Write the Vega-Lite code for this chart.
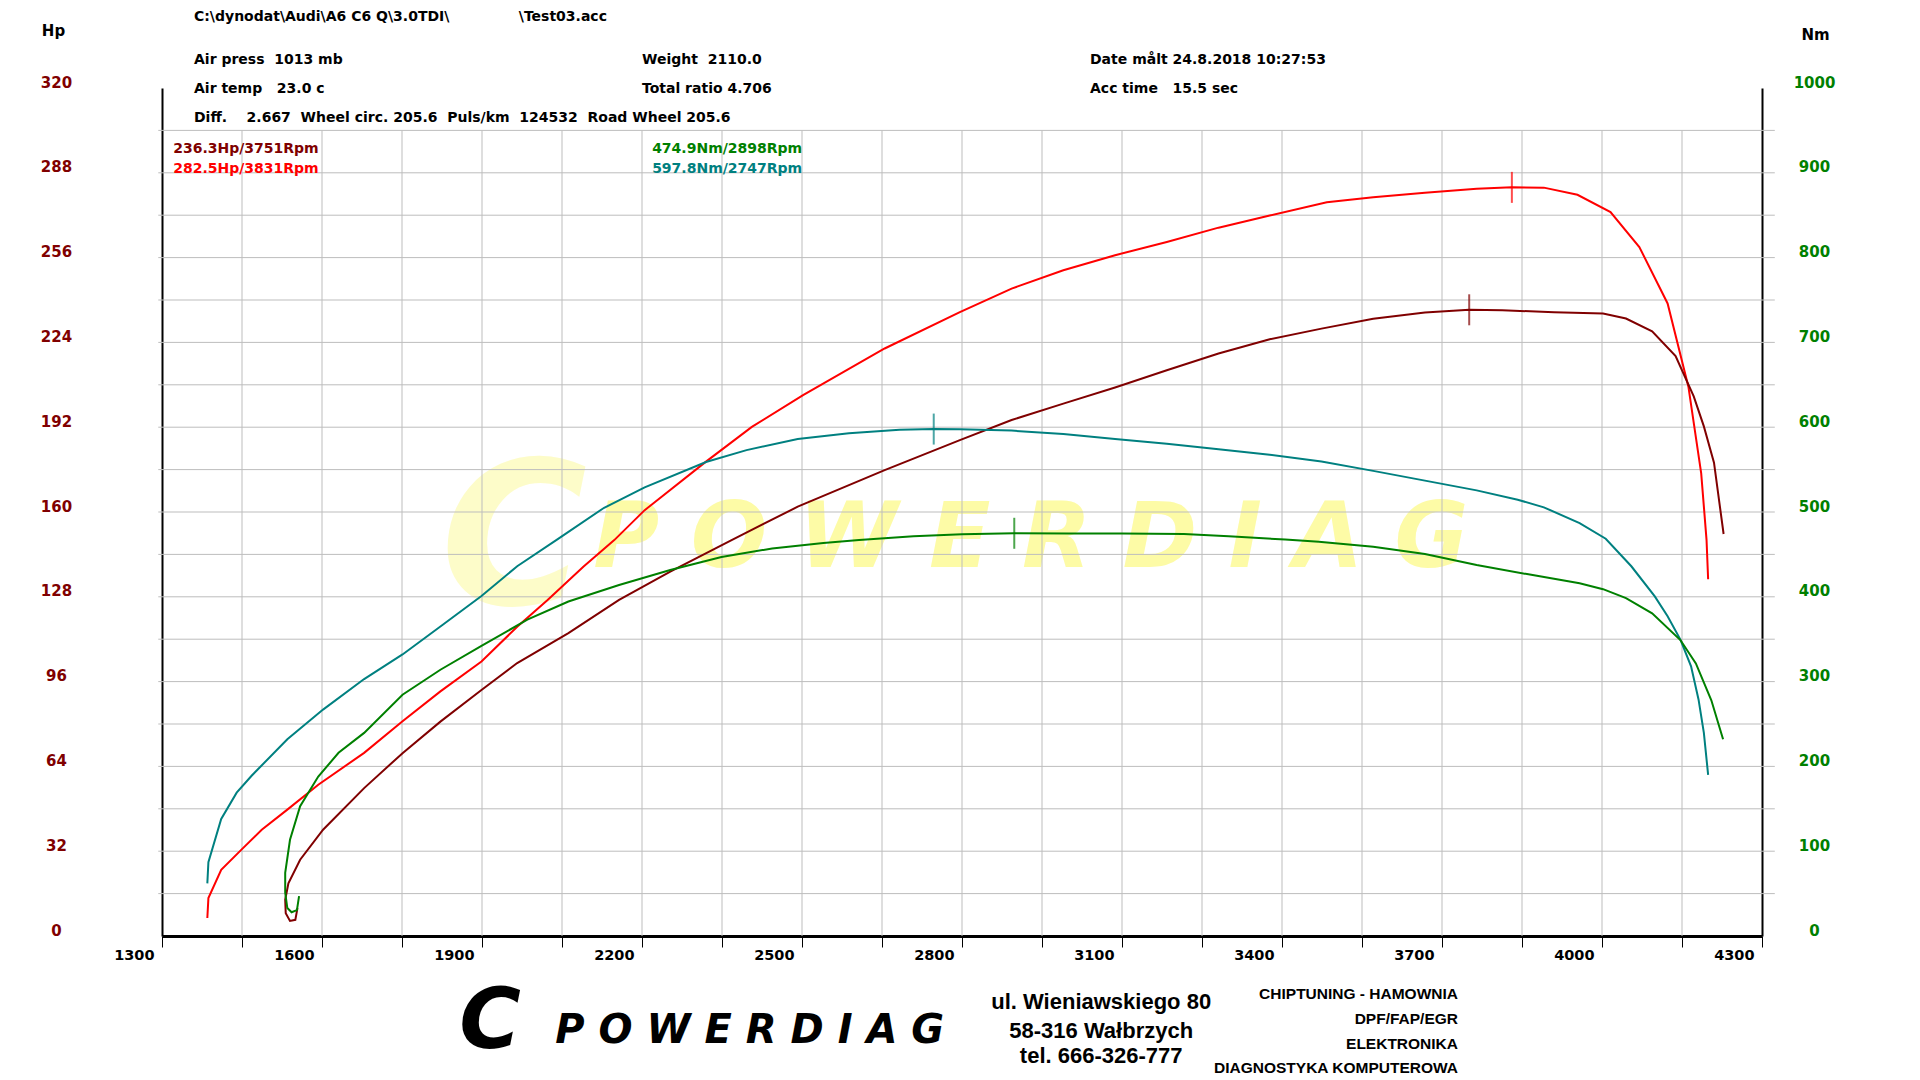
{
  "$schema": "https://vega.github.io/schema/vega-lite/v6.json",
  "description": "Dyno chart: Audi A6 C6 Q 3.0TDI, power (Hp) and torque (Nm) against engine speed.",
  "width": 1600,
  "height": 848,
  "autosize": {"type": "none"},
  "padding": {"left": 162, "top": 88, "right": 158, "bottom": 144},
  "background": "white",
  "config": {
    "view": {"stroke": null},
    "font": "DejaVu Sans",
    "text": {"font": "DejaVu Sans", "fontWeight": "bold", "fontSize": 14, "baseline": "middle", "align": "left", "color": "#000000"}
  },
  "datasets": {
    "hp": [
      {"curve": "282.5Hp/3831Rpm", "n": 1, "rpm": 1385, "hp": 6.8},
      {"curve": "282.5Hp/3831Rpm", "n": 2, "rpm": 1387, "hp": 14.3},
      {"curve": "282.5Hp/3831Rpm", "n": 3, "rpm": 1411, "hp": 25.0},
      {"curve": "282.5Hp/3831Rpm", "n": 4, "rpm": 1449, "hp": 32.6},
      {"curve": "282.5Hp/3831Rpm", "n": 5, "rpm": 1487, "hp": 40.1},
      {"curve": "282.5Hp/3831Rpm", "n": 6, "rpm": 1535, "hp": 47.7},
      {"curve": "282.5Hp/3831Rpm", "n": 7, "rpm": 1593, "hp": 57.1},
      {"curve": "282.5Hp/3831Rpm", "n": 8, "rpm": 1679, "hp": 69.1},
      {"curve": "282.5Hp/3831Rpm", "n": 9, "rpm": 1751, "hp": 81.0},
      {"curve": "282.5Hp/3831Rpm", "n": 10, "rpm": 1822, "hp": 92.3},
      {"curve": "282.5Hp/3831Rpm", "n": 11, "rpm": 1899, "hp": 103.6},
      {"curve": "282.5Hp/3831Rpm", "n": 12, "rpm": 1966, "hp": 116.7},
      {"curve": "282.5Hp/3831Rpm", "n": 13, "rpm": 2023, "hp": 126.8},
      {"curve": "282.5Hp/3831Rpm", "n": 14, "rpm": 2090, "hp": 139.3},
      {"curve": "282.5Hp/3831Rpm", "n": 15, "rpm": 2148, "hp": 149.4},
      {"curve": "282.5Hp/3831Rpm", "n": 16, "rpm": 2205, "hp": 160.7},
      {"curve": "282.5Hp/3831Rpm", "n": 17, "rpm": 2320, "hp": 179.0},
      {"curve": "282.5Hp/3831Rpm", "n": 18, "rpm": 2406, "hp": 192.1},
      {"curve": "282.5Hp/3831Rpm", "n": 19, "rpm": 2502, "hp": 204.1},
      {"curve": "282.5Hp/3831Rpm", "n": 20, "rpm": 2655, "hp": 221.7},
      {"curve": "282.5Hp/3831Rpm", "n": 21, "rpm": 2796, "hp": 235.4},
      {"curve": "282.5Hp/3831Rpm", "n": 22, "rpm": 2893, "hp": 244.3},
      {"curve": "282.5Hp/3831Rpm", "n": 23, "rpm": 2990, "hp": 251.2},
      {"curve": "282.5Hp/3831Rpm", "n": 24, "rpm": 3087, "hp": 256.9},
      {"curve": "282.5Hp/3831Rpm", "n": 25, "rpm": 3184, "hp": 261.9},
      {"curve": "282.5Hp/3831Rpm", "n": 26, "rpm": 3281, "hp": 267.3},
      {"curve": "282.5Hp/3831Rpm", "n": 27, "rpm": 3377, "hp": 271.9},
      {"curve": "282.5Hp/3831Rpm", "n": 28, "rpm": 3484, "hp": 276.9},
      {"curve": "282.5Hp/3831Rpm", "n": 29, "rpm": 3571, "hp": 278.8},
      {"curve": "282.5Hp/3831Rpm", "n": 30, "rpm": 3668, "hp": 280.5},
      {"curve": "282.5Hp/3831Rpm", "n": 31, "rpm": 3765, "hp": 282.0},
      {"curve": "282.5Hp/3831Rpm", "n": 32, "rpm": 3831, "hp": 282.5},
      {"curve": "282.5Hp/3831Rpm", "n": 33, "rpm": 3891, "hp": 282.4},
      {"curve": "282.5Hp/3831Rpm", "n": 34, "rpm": 3954, "hp": 279.7},
      {"curve": "282.5Hp/3831Rpm", "n": 35, "rpm": 4016, "hp": 273.2},
      {"curve": "282.5Hp/3831Rpm", "n": 36, "rpm": 4070, "hp": 260.0},
      {"curve": "282.5Hp/3831Rpm", "n": 37, "rpm": 4123, "hp": 238.7},
      {"curve": "282.5Hp/3831Rpm", "n": 38, "rpm": 4162, "hp": 207.3},
      {"curve": "282.5Hp/3831Rpm", "n": 39, "rpm": 4186, "hp": 174.6},
      {"curve": "282.5Hp/3831Rpm", "n": 40, "rpm": 4196, "hp": 149.5},
      {"curve": "282.5Hp/3831Rpm", "n": 41, "rpm": 4199, "hp": 134.6},
      {"curve": "236.3Hp/3751Rpm", "n": 1, "rpm": 1554, "hp": 10.5},
      {"curve": "236.3Hp/3751Rpm", "n": 2, "rpm": 1550, "hp": 6.1},
      {"curve": "236.3Hp/3751Rpm", "n": 3, "rpm": 1540, "hp": 5.7},
      {"curve": "236.3Hp/3751Rpm", "n": 4, "rpm": 1532, "hp": 8.6},
      {"curve": "236.3Hp/3751Rpm", "n": 5, "rpm": 1531, "hp": 13.7},
      {"curve": "236.3Hp/3751Rpm", "n": 6, "rpm": 1537, "hp": 19.9},
      {"curve": "236.3Hp/3751Rpm", "n": 7, "rpm": 1559, "hp": 28.8},
      {"curve": "236.3Hp/3751Rpm", "n": 8, "rpm": 1602, "hp": 40.1},
      {"curve": "236.3Hp/3751Rpm", "n": 9, "rpm": 1679, "hp": 55.8},
      {"curve": "236.3Hp/3751Rpm", "n": 10, "rpm": 1751, "hp": 69.0},
      {"curve": "236.3Hp/3751Rpm", "n": 11, "rpm": 1822, "hp": 80.9},
      {"curve": "236.3Hp/3751Rpm", "n": 12, "rpm": 1899, "hp": 92.8},
      {"curve": "236.3Hp/3751Rpm", "n": 13, "rpm": 1966, "hp": 103.0},
      {"curve": "236.3Hp/3751Rpm", "n": 14, "rpm": 2062, "hp": 114.3},
      {"curve": "236.3Hp/3751Rpm", "n": 15, "rpm": 2157, "hp": 126.8},
      {"curve": "236.3Hp/3751Rpm", "n": 16, "rpm": 2253, "hp": 137.5},
      {"curve": "236.3Hp/3751Rpm", "n": 17, "rpm": 2368, "hp": 149.4},
      {"curve": "236.3Hp/3751Rpm", "n": 18, "rpm": 2492, "hp": 162.0},
      {"curve": "236.3Hp/3751Rpm", "n": 19, "rpm": 2655, "hp": 175.8},
      {"curve": "236.3Hp/3751Rpm", "n": 20, "rpm": 2796, "hp": 187.1},
      {"curve": "236.3Hp/3751Rpm", "n": 21, "rpm": 2893, "hp": 194.7},
      {"curve": "236.3Hp/3751Rpm", "n": 22, "rpm": 2990, "hp": 200.9},
      {"curve": "236.3Hp/3751Rpm", "n": 23, "rpm": 3087, "hp": 207.0},
      {"curve": "236.3Hp/3751Rpm", "n": 24, "rpm": 3184, "hp": 213.5},
      {"curve": "236.3Hp/3751Rpm", "n": 25, "rpm": 3281, "hp": 219.8},
      {"curve": "236.3Hp/3751Rpm", "n": 26, "rpm": 3377, "hp": 225.2},
      {"curve": "236.3Hp/3751Rpm", "n": 27, "rpm": 3474, "hp": 229.2},
      {"curve": "236.3Hp/3751Rpm", "n": 28, "rpm": 3571, "hp": 232.9},
      {"curve": "236.3Hp/3751Rpm", "n": 29, "rpm": 3668, "hp": 235.3},
      {"curve": "236.3Hp/3751Rpm", "n": 30, "rpm": 3751, "hp": 236.3},
      {"curve": "236.3Hp/3751Rpm", "n": 31, "rpm": 3813, "hp": 236.1},
      {"curve": "236.3Hp/3751Rpm", "n": 32, "rpm": 3910, "hp": 235.4},
      {"curve": "236.3Hp/3751Rpm", "n": 33, "rpm": 4002, "hp": 234.9},
      {"curve": "236.3Hp/3751Rpm", "n": 34, "rpm": 4045, "hp": 233.0},
      {"curve": "236.3Hp/3751Rpm", "n": 35, "rpm": 4094, "hp": 228.2},
      {"curve": "236.3Hp/3751Rpm", "n": 36, "rpm": 4138, "hp": 218.8},
      {"curve": "236.3Hp/3751Rpm", "n": 37, "rpm": 4172, "hp": 203.6},
      {"curve": "236.3Hp/3751Rpm", "n": 38, "rpm": 4191, "hp": 192.3},
      {"curve": "236.3Hp/3751Rpm", "n": 39, "rpm": 4210, "hp": 178.6},
      {"curve": "236.3Hp/3751Rpm", "n": 40, "rpm": 4228, "hp": 151.7}
    ],
    "nm": [
      {"curve": "597.8Nm/2747Rpm", "n": 1, "rpm": 1385, "nm": 62},
      {"curve": "597.8Nm/2747Rpm", "n": 2, "rpm": 1387, "nm": 87},
      {"curve": "597.8Nm/2747Rpm", "n": 3, "rpm": 1411, "nm": 138},
      {"curve": "597.8Nm/2747Rpm", "n": 4, "rpm": 1440, "nm": 169},
      {"curve": "597.8Nm/2747Rpm", "n": 5, "rpm": 1468, "nm": 189},
      {"curve": "597.8Nm/2747Rpm", "n": 6, "rpm": 1535, "nm": 232},
      {"curve": "597.8Nm/2747Rpm", "n": 7, "rpm": 1602, "nm": 267},
      {"curve": "597.8Nm/2747Rpm", "n": 8, "rpm": 1679, "nm": 303},
      {"curve": "597.8Nm/2747Rpm", "n": 9, "rpm": 1751, "nm": 332},
      {"curve": "597.8Nm/2747Rpm", "n": 10, "rpm": 1822, "nm": 365},
      {"curve": "597.8Nm/2747Rpm", "n": 11, "rpm": 1899, "nm": 401},
      {"curve": "597.8Nm/2747Rpm", "n": 12, "rpm": 1966, "nm": 436},
      {"curve": "597.8Nm/2747Rpm", "n": 13, "rpm": 2042, "nm": 468},
      {"curve": "597.8Nm/2747Rpm", "n": 14, "rpm": 2129, "nm": 505},
      {"curve": "597.8Nm/2747Rpm", "n": 15, "rpm": 2205, "nm": 529},
      {"curve": "597.8Nm/2747Rpm", "n": 16, "rpm": 2320, "nm": 559},
      {"curve": "597.8Nm/2747Rpm", "n": 17, "rpm": 2396, "nm": 573},
      {"curve": "597.8Nm/2747Rpm", "n": 18, "rpm": 2492, "nm": 586},
      {"curve": "597.8Nm/2747Rpm", "n": 19, "rpm": 2588, "nm": 593},
      {"curve": "597.8Nm/2747Rpm", "n": 20, "rpm": 2683, "nm": 597},
      {"curve": "597.8Nm/2747Rpm", "n": 21, "rpm": 2747, "nm": 597.8},
      {"curve": "597.8Nm/2747Rpm", "n": 22, "rpm": 2796, "nm": 597.6},
      {"curve": "597.8Nm/2747Rpm", "n": 23, "rpm": 2893, "nm": 596},
      {"curve": "597.8Nm/2747Rpm", "n": 24, "rpm": 2990, "nm": 592},
      {"curve": "597.8Nm/2747Rpm", "n": 25, "rpm": 3087, "nm": 586},
      {"curve": "597.8Nm/2747Rpm", "n": 26, "rpm": 3184, "nm": 580.5},
      {"curve": "597.8Nm/2747Rpm", "n": 27, "rpm": 3281, "nm": 574},
      {"curve": "597.8Nm/2747Rpm", "n": 28, "rpm": 3377, "nm": 567.5},
      {"curve": "597.8Nm/2747Rpm", "n": 29, "rpm": 3474, "nm": 559.5},
      {"curve": "597.8Nm/2747Rpm", "n": 30, "rpm": 3571, "nm": 548.5},
      {"curve": "597.8Nm/2747Rpm", "n": 31, "rpm": 3668, "nm": 537},
      {"curve": "597.8Nm/2747Rpm", "n": 32, "rpm": 3765, "nm": 525.5},
      {"curve": "597.8Nm/2747Rpm", "n": 33, "rpm": 3842, "nm": 514.5},
      {"curve": "597.8Nm/2747Rpm", "n": 34, "rpm": 3891, "nm": 505.5},
      {"curve": "597.8Nm/2747Rpm", "n": 35, "rpm": 3958, "nm": 487},
      {"curve": "597.8Nm/2747Rpm", "n": 36, "rpm": 4007, "nm": 468.5},
      {"curve": "597.8Nm/2747Rpm", "n": 37, "rpm": 4055, "nm": 436},
      {"curve": "597.8Nm/2747Rpm", "n": 38, "rpm": 4099, "nm": 400.5},
      {"curve": "597.8Nm/2747Rpm", "n": 39, "rpm": 4123, "nm": 377},
      {"curve": "597.8Nm/2747Rpm", "n": 40, "rpm": 4147, "nm": 349.5},
      {"curve": "597.8Nm/2747Rpm", "n": 41, "rpm": 4167, "nm": 318},
      {"curve": "597.8Nm/2747Rpm", "n": 42, "rpm": 4181, "nm": 279},
      {"curve": "597.8Nm/2747Rpm", "n": 43, "rpm": 4191, "nm": 239.5},
      {"curve": "597.8Nm/2747Rpm", "n": 44, "rpm": 4199, "nm": 190},
      {"curve": "474.9Nm/2898Rpm", "n": 1, "rpm": 1557, "nm": 47},
      {"curve": "474.9Nm/2898Rpm", "n": 2, "rpm": 1553, "nm": 30.5},
      {"curve": "474.9Nm/2898Rpm", "n": 3, "rpm": 1543, "nm": 28},
      {"curve": "474.9Nm/2898Rpm", "n": 4, "rpm": 1535, "nm": 33},
      {"curve": "474.9Nm/2898Rpm", "n": 5, "rpm": 1531, "nm": 51},
      {"curve": "474.9Nm/2898Rpm", "n": 6, "rpm": 1531, "nm": 74.5},
      {"curve": "474.9Nm/2898Rpm", "n": 7, "rpm": 1540, "nm": 113.5},
      {"curve": "474.9Nm/2898Rpm", "n": 8, "rpm": 1559, "nm": 153},
      {"curve": "474.9Nm/2898Rpm", "n": 9, "rpm": 1593, "nm": 188},
      {"curve": "474.9Nm/2898Rpm", "n": 10, "rpm": 1631, "nm": 216},
      {"curve": "474.9Nm/2898Rpm", "n": 11, "rpm": 1679, "nm": 239.5},
      {"curve": "474.9Nm/2898Rpm", "n": 12, "rpm": 1751, "nm": 284.5},
      {"curve": "474.9Nm/2898Rpm", "n": 13, "rpm": 1822, "nm": 314},
      {"curve": "474.9Nm/2898Rpm", "n": 14, "rpm": 1899, "nm": 342},
      {"curve": "474.9Nm/2898Rpm", "n": 15, "rpm": 1985, "nm": 373},
      {"curve": "474.9Nm/2898Rpm", "n": 16, "rpm": 2062, "nm": 394.5},
      {"curve": "474.9Nm/2898Rpm", "n": 17, "rpm": 2157, "nm": 414},
      {"curve": "474.9Nm/2898Rpm", "n": 18, "rpm": 2253, "nm": 431.5},
      {"curve": "474.9Nm/2898Rpm", "n": 19, "rpm": 2349, "nm": 447},
      {"curve": "474.9Nm/2898Rpm", "n": 20, "rpm": 2444, "nm": 457},
      {"curve": "474.9Nm/2898Rpm", "n": 21, "rpm": 2540, "nm": 463.5},
      {"curve": "474.9Nm/2898Rpm", "n": 22, "rpm": 2607, "nm": 467},
      {"curve": "474.9Nm/2898Rpm", "n": 23, "rpm": 2709, "nm": 471.5},
      {"curve": "474.9Nm/2898Rpm", "n": 24, "rpm": 2800, "nm": 473.8},
      {"curve": "474.9Nm/2898Rpm", "n": 25, "rpm": 2898, "nm": 474.9},
      {"curve": "474.9Nm/2898Rpm", "n": 26, "rpm": 3000, "nm": 474.7},
      {"curve": "474.9Nm/2898Rpm", "n": 27, "rpm": 3100, "nm": 474.6},
      {"curve": "474.9Nm/2898Rpm", "n": 28, "rpm": 3216, "nm": 474.2},
      {"curve": "474.9Nm/2898Rpm", "n": 29, "rpm": 3300, "nm": 471.5},
      {"curve": "474.9Nm/2898Rpm", "n": 30, "rpm": 3406, "nm": 467.5},
      {"curve": "474.9Nm/2898Rpm", "n": 31, "rpm": 3469, "nm": 465},
      {"curve": "474.9Nm/2898Rpm", "n": 32, "rpm": 3571, "nm": 459},
      {"curve": "474.9Nm/2898Rpm", "n": 33, "rpm": 3668, "nm": 450.5},
      {"curve": "474.9Nm/2898Rpm", "n": 34, "rpm": 3765, "nm": 437.5},
      {"curve": "474.9Nm/2898Rpm", "n": 35, "rpm": 3862, "nm": 426.5},
      {"curve": "474.9Nm/2898Rpm", "n": 36, "rpm": 3958, "nm": 416},
      {"curve": "474.9Nm/2898Rpm", "n": 37, "rpm": 4002, "nm": 409},
      {"curve": "474.9Nm/2898Rpm", "n": 38, "rpm": 4045, "nm": 398.5},
      {"curve": "474.9Nm/2898Rpm", "n": 39, "rpm": 4094, "nm": 380.5},
      {"curve": "474.9Nm/2898Rpm", "n": 40, "rpm": 4147, "nm": 349},
      {"curve": "474.9Nm/2898Rpm", "n": 41, "rpm": 4176, "nm": 321.5},
      {"curve": "474.9Nm/2898Rpm", "n": 42, "rpm": 4205, "nm": 278},
      {"curve": "474.9Nm/2898Rpm", "n": 43, "rpm": 4227, "nm": 232}
    ],
    "peaks": [
      {"curve": "282.5Hp/3831Rpm", "unit": "Hp", "rpm": 3831, "value": 282.5},
      {"curve": "236.3Hp/3751Rpm", "unit": "Hp", "rpm": 3751, "value": 236.3},
      {"curve": "597.8Nm/2747Rpm", "unit": "Nm", "rpm": 2747, "value": 597.8},
      {"curve": "474.9Nm/2898Rpm", "unit": "Nm", "rpm": 2898, "value": 474.9}
    ],
    "rpmgrid": [
      {"rpm": 1450}, {"rpm": 1600}, {"rpm": 1750}, {"rpm": 1900}, {"rpm": 2050},
      {"rpm": 2200}, {"rpm": 2350}, {"rpm": 2500}, {"rpm": 2650}, {"rpm": 2800},
      {"rpm": 2950}, {"rpm": 3100}, {"rpm": 3250}, {"rpm": 3400}, {"rpm": 3550},
      {"rpm": 3700}, {"rpm": 3850}, {"rpm": 4000}, {"rpm": 4150}
    ],
    "hpgrid": [
      {"hp": 16}, {"hp": 32}, {"hp": 48}, {"hp": 64}, {"hp": 80}, {"hp": 96}, {"hp": 112},
      {"hp": 128}, {"hp": 144}, {"hp": 160}, {"hp": 176}, {"hp": 192}, {"hp": 208},
      {"hp": 224}, {"hp": 240}, {"hp": 256}, {"hp": 272}, {"hp": 288}, {"hp": 304}
    ]
  },
  "resolve": {"scale": {"y": "independent"}, "axis": {"y": "independent"}},
  "layer": [
    {
      "layer": [
        {
          "data": {"values": [{}]},
          "mark": {"type": "text", "text": "P O W E R D I A G", "fontSize": 90, "fontStyle": "italic", "fontWeight": "bold", "align": "center", "color": "#fdfba6"},
          "encoding": {
            "x": {"datum": 2929, "type": "quantitative", "scale": {"domain": [1300, 4300], "nice": false, "zero": false}},
            "y": {"datum": 149.6, "type": "quantitative", "scale": {"domain": [0, 320], "nice": false, "zero": false}}
          }
        },
        {
          "data": {"values": [{}]},
          "mark": {"type": "text", "text": "C", "fontSize": 200, "fontStyle": "italic", "fontWeight": "bold", "align": "center", "color": "#fdfba6", "opacity": 0.6},
          "encoding": {
            "x": {"datum": 1960, "type": "quantitative"},
            "y": {"datum": 148, "type": "quantitative"}
          }
        },
        {
          "data": {"name": "rpmgrid"},
          "mark": {"type": "rule", "color": "#bdbdbd", "strokeWidth": 1},
          "encoding": {
            "x": {"field": "rpm", "type": "quantitative"},
            "y": {"datum": 0, "type": "quantitative"},
            "y2": {"datum": 304}
          }
        },
        {
          "data": {"name": "hpgrid"},
          "mark": {"type": "rule", "color": "#bdbdbd", "strokeWidth": 1},
          "encoding": {
            "y": {"field": "hp", "type": "quantitative"},
            "x": {"datum": 1293, "type": "quantitative"},
            "x2": {"datum": 4324}
          }
        },
        {
          "data": {"name": "hp"},
          "mark": {"type": "line", "strokeWidth": 2, "clip": false},
          "encoding": {
            "x": {
              "field": "rpm", "type": "quantitative",
              "scale": {"domain": [1300, 4300], "nice": false, "zero": false},
              "axis": {
                "values": [1300, 1450, 1600, 1750, 1900, 2050, 2200, 2350, 2500, 2650, 2800, 2950, 3100, 3250, 3400, 3550, 3700, 3850, 4000, 4150, 4300],
                "labelExpr": "datum.value % 300 == 100 ? datum.label : ''",
                "format": "d", "grid": false, "title": null, "orient": "bottom",
                "domain": true, "domainColor": "#000000", "domainWidth": 3,
                "ticks": true, "tickColor": "#000000", "tickSize": 11, "tickWidth": 1,
                "labelFont": "DejaVu Sans", "labelFontSize": 14.5, "labelFontWeight": "bold", "labelColor": "#000000",
                "labelAlign": "right", "labelBaseline": "top", "labelOffset": -8, "labelPadding": 1,
                "labelFlush": false, "labelOverlap": false, "labelBound": false
              }
            },
            "y": {
              "field": "hp", "type": "quantitative",
              "scale": {"domain": [0, 320], "nice": false, "zero": false},
              "axis": {
                "values": [0, 32, 64, 96, 128, 160, 192, 224, 256, 288, 320],
                "format": "d", "grid": false, "ticks": false, "tickSize": 0, "orient": "left",
                "domain": true, "domainColor": "#000000", "domainWidth": 2,
                "labelFont": "DejaVu Sans", "labelFontSize": 15, "labelFontWeight": "bold", "labelColor": "#800000",
                "labelAlign": "center", "labelBaseline": "middle", "labelPadding": 106, "labelOffset": -6,
                "labelFlush": false, "labelOverlap": false, "labelBound": false,
                "title": "Hp", "titleAngle": 0, "titleX": -109, "titleY": -58,
                "titleFont": "DejaVu Sans", "titleFontSize": 15, "titleFontWeight": "bold", "titleColor": "#000000",
                "titleAlign": "center", "titleBaseline": "middle"
              }
            },
            "order": {"field": "n", "type": "quantitative"},
            "color": {
              "field": "curve", "type": "nominal", "legend": null,
              "scale": {"domain": ["282.5Hp/3831Rpm", "236.3Hp/3751Rpm", "597.8Nm/2747Rpm", "474.9Nm/2898Rpm"], "range": ["#ff0000", "#800000", "#008080", "#008000"]}
            }
          }
        },
        {
          "data": {"name": "peaks"},
          "transform": [{"filter": "datum.unit == 'Hp'"}],
          "mark": {"type": "tick", "orient": "vertical", "size": 31, "thickness": 2},
          "encoding": {
            "x": {"field": "rpm", "type": "quantitative"},
            "y": {"field": "value", "type": "quantitative"},
            "color": {"field": "curve", "type": "nominal", "legend": null}
          }
        },
        {
          "data": {"values": [{}]},
          "layer": [
            {"mark": {"type": "text", "text": "C:\\dynodat\\Audi\\A6 C6 Q\\3.0TDI\\"}, "encoding": {"x": {"datum": 1360, "type": "quantitative"}, "y": {"datum": 346.9, "type": "quantitative"}}},
            {"mark": {"type": "text", "text": "Air press\u00a0 1013 mb"}, "encoding": {"x": {"datum": 1360, "type": "quantitative"}, "y": {"datum": 330.7, "type": "quantitative"}}},
            {"mark": {"type": "text", "text": "Air temp\u00a0\u00a0 23.0 c"}, "encoding": {"x": {"datum": 1360, "type": "quantitative"}, "y": {"datum": 319.8, "type": "quantitative"}}},
            {"mark": {"type": "text", "text": "Diff.\u00a0\u00a0\u00a0 2.667\u00a0 Wheel circ. 205.6\u00a0 Puls/km\u00a0 124532\u00a0 Road Wheel 205.6"}, "encoding": {"x": {"datum": 1360, "type": "quantitative"}, "y": {"datum": 308.5, "type": "quantitative"}}},
            {"mark": {"type": "text", "text": "\\Test03.acc"}, "encoding": {"x": {"datum": 1969, "type": "quantitative"}, "y": {"datum": 346.9, "type": "quantitative"}}},
            {"mark": {"type": "text", "text": "Weight\u00a0 2110.0"}, "encoding": {"x": {"datum": 2200, "type": "quantitative"}, "y": {"datum": 330.7, "type": "quantitative"}}},
            {"mark": {"type": "text", "text": "Total ratio 4.706"}, "encoding": {"x": {"datum": 2200, "type": "quantitative"}, "y": {"datum": 319.8, "type": "quantitative"}}},
            {"mark": {"type": "text", "text": "Date målt 24.8.2018 10:27:53"}, "encoding": {"x": {"datum": 3040, "type": "quantitative"}, "y": {"datum": 330.7, "type": "quantitative"}}},
            {"mark": {"type": "text", "text": "Acc time\u00a0\u00a0 15.5 sec"}, "encoding": {"x": {"datum": 3040, "type": "quantitative"}, "y": {"datum": 319.8, "type": "quantitative"}}},
            {"mark": {"type": "text", "text": "236.3Hp/3751Rpm", "color": "#800000"}, "encoding": {"x": {"datum": 1321, "type": "quantitative"}, "y": {"datum": 296.9, "type": "quantitative"}}},
            {"mark": {"type": "text", "text": "282.5Hp/3831Rpm", "color": "#ff0000"}, "encoding": {"x": {"datum": 1321, "type": "quantitative"}, "y": {"datum": 289.3, "type": "quantitative"}}},
            {"mark": {"type": "text", "text": "474.9Nm/2898Rpm", "color": "#008000"}, "encoding": {"x": {"datum": 2219, "type": "quantitative"}, "y": {"datum": 296.9, "type": "quantitative"}}},
            {"mark": {"type": "text", "text": "597.8Nm/2747Rpm", "color": "#008080"}, "encoding": {"x": {"datum": 2219, "type": "quantitative"}, "y": {"datum": 289.3, "type": "quantitative"}}},
            {"mark": {"type": "text", "text": "C", "fontSize": 84, "fontStyle": "italic", "align": "center"}, "encoding": {"x": {"datum": 1915, "type": "quantitative"}, "y": {"datum": -33, "type": "quantitative"}}},
            {"mark": {"type": "text", "text": "P O W E R D I A G", "fontSize": 40, "fontStyle": "italic", "align": "center"}, "encoding": {"x": {"datum": 2402, "type": "quantitative"}, "y": {"datum": -36, "type": "quantitative"}}},
            {"mark": {"type": "text", "text": "ul. Wieniawskiego 80", "font": "Liberation Sans", "fontSize": 22, "align": "center"}, "encoding": {"x": {"datum": 3061, "type": "quantitative"}, "y": {"datum": -25, "type": "quantitative"}}},
            {"mark": {"type": "text", "text": "58-316 Wałbrzych", "font": "Liberation Sans", "fontSize": 22, "align": "center"}, "encoding": {"x": {"datum": 3061, "type": "quantitative"}, "y": {"datum": -36, "type": "quantitative"}}},
            {"mark": {"type": "text", "text": "tel. 666-326-777", "font": "Liberation Sans", "fontSize": 22, "align": "center"}, "encoding": {"x": {"datum": 3061, "type": "quantitative"}, "y": {"datum": -45.4, "type": "quantitative"}}},
            {"mark": {"type": "text", "text": "CHIPTUNING - HAMOWNIA", "font": "Liberation Sans", "fontSize": 15.5, "align": "right"}, "encoding": {"x": {"datum": 3730, "type": "quantitative"}, "y": {"datum": -22, "type": "quantitative"}}},
            {"mark": {"type": "text", "text": "DPF/FAP/EGR", "font": "Liberation Sans", "fontSize": 15.5, "align": "right"}, "encoding": {"x": {"datum": 3730, "type": "quantitative"}, "y": {"datum": -31.4, "type": "quantitative"}}},
            {"mark": {"type": "text", "text": "ELEKTRONIKA", "font": "Liberation Sans", "fontSize": 15.5, "align": "right"}, "encoding": {"x": {"datum": 3730, "type": "quantitative"}, "y": {"datum": -40.9, "type": "quantitative"}}},
            {"mark": {"type": "text", "text": "DIAGNOSTYKA KOMPUTEROWA", "font": "Liberation Sans", "fontSize": 15.5, "align": "right"}, "encoding": {"x": {"datum": 3730, "type": "quantitative"}, "y": {"datum": -49.9, "type": "quantitative"}}}
          ]
        }
      ]
    },
    {
      "layer": [
        {
          "data": {"name": "nm"},
          "mark": {"type": "line", "strokeWidth": 2, "clip": false},
          "encoding": {
            "x": {"field": "rpm", "type": "quantitative"},
            "y": {
              "field": "nm", "type": "quantitative",
              "scale": {"domain": [0, 1000], "nice": false, "zero": false},
              "axis": {
                "orient": "right",
                "values": [0, 100, 200, 300, 400, 500, 600, 700, 800, 900, 1000],
                "format": "d", "grid": false, "ticks": false, "tickSize": 0,
                "domain": true, "domainColor": "#000000", "domainWidth": 2,
                "labelFont": "DejaVu Sans", "labelFontSize": 15, "labelFontWeight": "bold", "labelColor": "#008000",
                "labelAlign": "center", "labelBaseline": "middle", "labelPadding": 52, "labelOffset": -6,
                "labelFlush": false, "labelOverlap": false, "labelBound": false,
                "title": "Nm", "titleAngle": 0, "titleX": 53, "titleY": -54,
                "titleFont": "DejaVu Sans", "titleFontSize": 15, "titleFontWeight": "bold", "titleColor": "#000000",
                "titleAlign": "center", "titleBaseline": "middle"
              }
            },
            "order": {"field": "n", "type": "quantitative"},
            "color": {"field": "curve", "type": "nominal", "legend": null}
          }
        },
        {
          "data": {"name": "peaks"},
          "transform": [{"filter": "datum.unit == 'Nm'"}],
          "mark": {"type": "tick", "orient": "vertical", "size": 31, "thickness": 2},
          "encoding": {
            "x": {"field": "rpm", "type": "quantitative"},
            "y": {"field": "value", "type": "quantitative"},
            "color": {"field": "curve", "type": "nominal", "legend": null}
          }
        }
      ]
    }
  ]
}
